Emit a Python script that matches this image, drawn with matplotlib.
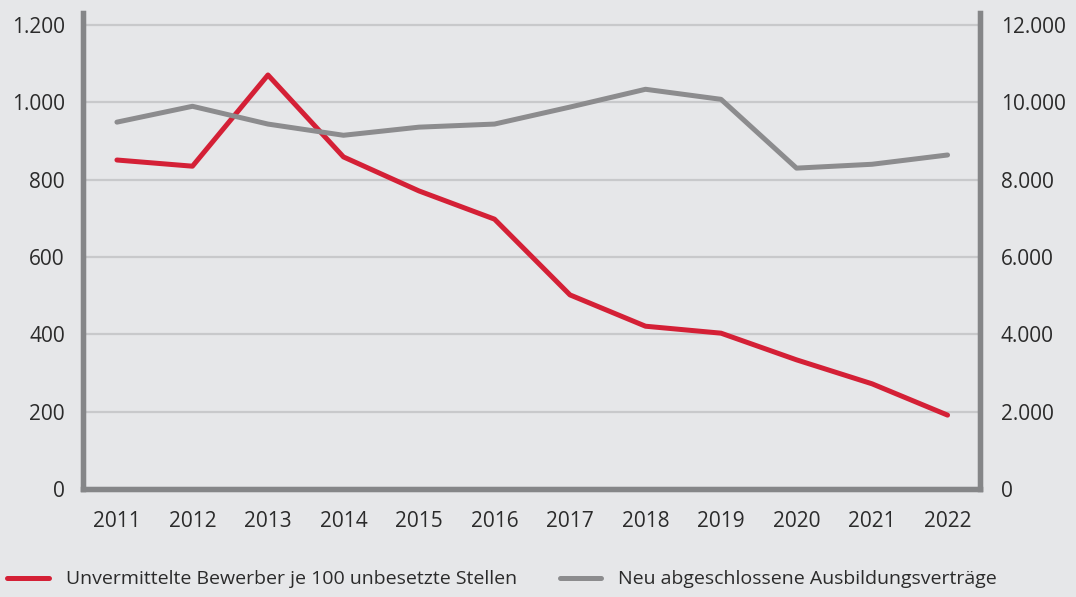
import matplotlib.pyplot as plt
from matplotlib.ticker import FuncFormatter
from matplotlib.lines import Line2D

years = [2011, 2012, 2013, 2014, 2015, 2016, 2017, 2018, 2019, 2020, 2021, 2022]
bewerber = [851, 835, 1071, 859, 771, 698, 502, 421, 403, 334, 272, 191]
vertraege = [9490, 9900, 9440, 9150, 9360, 9440, 9880, 10340, 10080, 8300, 8400, 8640]

left_ticks = [0, 200, 400, 600, 800, 1000, 1200]
right_ticks = [0, 2000, 4000, 6000, 8000, 10000, 12000]

label_red = "Unvermittelte Bewerber je 100 unbesetzte Stellen"
label_gray = "Neu abgeschlossene Ausbildungsverträge"

bg = "#e6e7e9"
red = "#d42036"
gray = "#8c8c8e"
spine_col = "#858688"
grid_col = "#c8c9cb"
text_col = "#2b2b2b"

plt.rcParams["font.family"] = ["Open Sans", "DejaVu Sans"]


def de_fmt(v, pos):
    return f"{int(round(v)):,}".replace(",", ".")


fig = plt.figure(figsize=(10.76, 5.97), dpi=100, facecolor=bg)
ax = fig.add_axes([0.0771, 0.181, 0.8337, 0.797])
ax.set_facecolor(bg)

ax.plot(years, bewerber, color=red, lw=3.6, solid_capstyle="round", zorder=3)
ax.set_xlim(2010.55, 2022.43)
ax.set_ylim(0, 1231)
ax.set_yticks(left_ticks)
ax.yaxis.set_major_formatter(FuncFormatter(de_fmt))
ax.set_xticks(years)
ax.grid(axis="y", color=grid_col, lw=1.6)
ax.set_axisbelow(True)

ax2 = ax.twinx()
ax2.plot(years, vertraege, color=gray, lw=3.6, solid_capstyle="round")
ax2.set_ylim(0, 12310)
ax2.set_yticks(right_ticks)
ax2.yaxis.set_major_formatter(FuncFormatter(de_fmt))

for a in (ax, ax2):
    for side, sp in a.spines.items():
        if side == "top":
            sp.set_visible(False)
        else:
            sp.set_color(spine_col)
            sp.set_linewidth(3.8)
    a.tick_params(length=0, labelsize=15, colors=text_col)
ax.tick_params(axis="y", pad=13)
ax2.tick_params(axis="y", pad=15)
ax.tick_params(axis="x", pad=16)

handles = [
    Line2D([], [], color=red, lw=3.6, solid_capstyle="round"),
    Line2D([], [], color=gray, lw=3.6, solid_capstyle="round"),
]
fig.legend(
    handles, [label_red, label_gray],
    loc="lower left", bbox_to_anchor=(-0.004, -0.005), ncol=2,
    frameon=False, fontsize=14, labelcolor=text_col,
    handlelength=2.15, handletextpad=0.85, columnspacing=2.2,
    borderaxespad=0.2,
)

fig.savefig("out.png", dpi=100, facecolor=bg)
